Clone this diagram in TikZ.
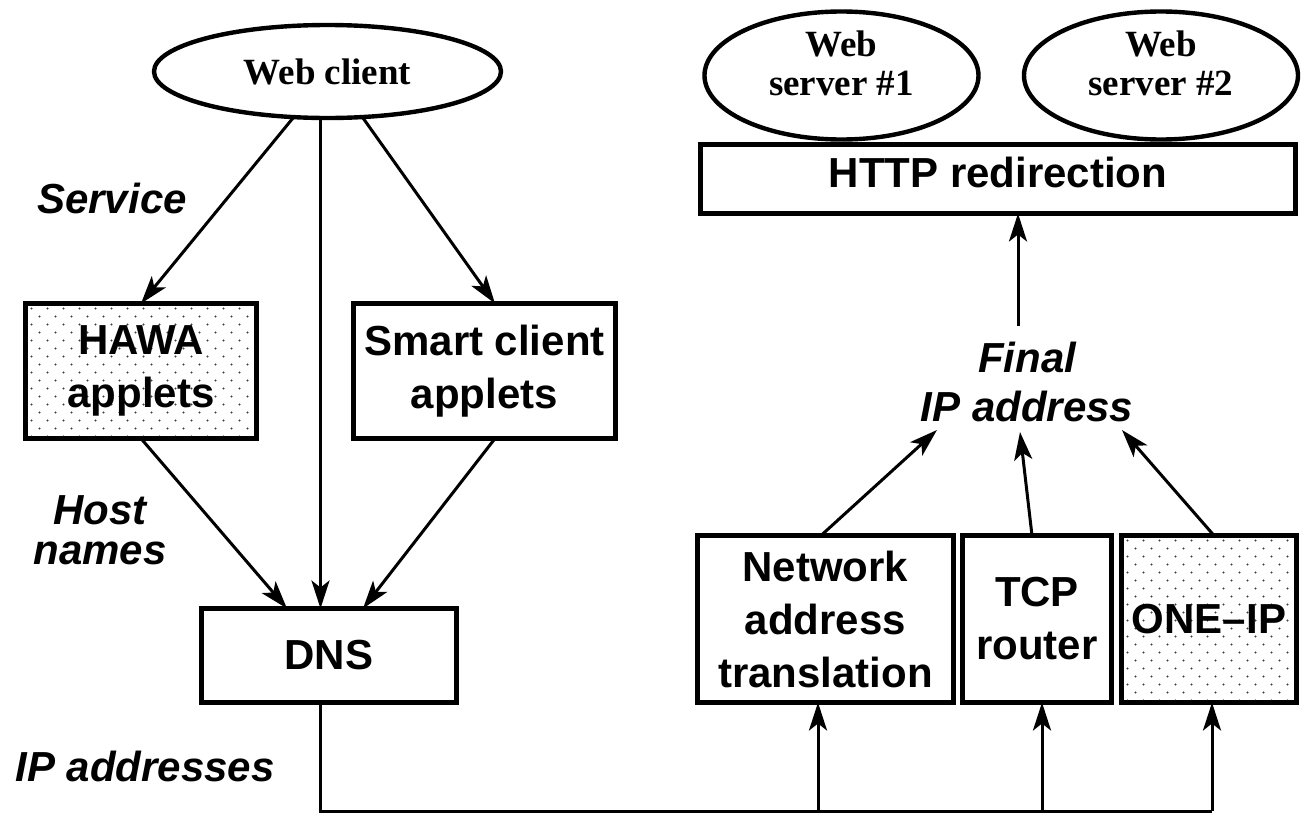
\documentclass[tikz,border=0pt]{standalone}
\usepackage{fontspec}
\setmainfont{Liberation Serif}
\newfontfamily\hv{Liberation Sans}
\usetikzlibrary{shapes.geometric,arrows.meta}
\begin{document}
\begin{tikzpicture}[x=0.5pt,y=-0.5pt,
  ell/.style={ellipse,draw,line width=2.2pt,inner sep=0pt,outer sep=0pt,fill=white,
    font=\bfseries\fontsize{18.5}{19.5}\selectfont,align=center},
  box/.style={rectangle,draw,line width=2.75pt,inner sep=0pt,outer sep=0pt,fill=white,
    font=\hv\bfseries\fontsize{21}{26.5}\selectfont,align=center},
  lbl/.style={font=\hv\bfseries\itshape\fontsize{21}{21}\selectfont,align=center,inner sep=0pt},
  con/.style={line width=1.5pt},
  arr/.style={con,-{Stealth[length=14pt,width=9pt,inset=3.5pt]}},
  stipple/.style={path picture={
    \foreach \j in {0,...,21}{
      \foreach \i in {0,...,15}{
        \fill[black!75] ([shift={({\i*16+mod(\j,2)*8+6},{\j*8+5})}]path picture bounding box.north west) circle[radius=0.55pt];
      }
    }
  }}
]
\useasboundingbox (0,0) rectangle (1303,814);

% top-left client
\node[ell,minimum width=173.5pt,minimum height=46.5pt] (wc) at (327.5,71.5) {Web client};

% servers and HTTP redirection
\node[box,minimum width=297.5pt,minimum height=34.5pt,text depth=6.5pt] (http) at (998,179) {HTTP redirection};
\node[ell,minimum width=137pt,minimum height=64pt,text depth=12pt] (ws1) at (841.5,75.5) {Web\\server \#1};
\node[ell,minimum width=137pt,minimum height=64pt,text depth=12pt] (ws2) at (1161,75.5) {Web\\server \#2};

% applet boxes
\node[box,stipple,minimum width=115.5pt,minimum height=67.5pt] (hawa) at (141,371) {HAWA\\applets};
\node[box,minimum width=131pt,minimum height=67.5pt] (smart) at (484.5,371) {Smart client\\applets};

% DNS
\node[box,minimum width=127.5pt,minimum height=47pt] (dns) at (329,655.5) {DNS};

% bottom-right boxes
\node[box,minimum width=128pt,minimum height=83.5pt] (nat) at (825.5,619) {Network\\address\\translation};
\node[box,minimum width=74.5pt,minimum height=83.5pt] (tcp) at (1037,619) {TCP\\router};
\node[box,stipple,minimum width=87.5pt,minimum height=83.5pt] (oneip) at (1209,619) {ONE\textendash IP};

% labels
\node[lbl] (svc) at (112,198) {Service};
\node[lbl,font=\hv\bfseries\itshape\fontsize{21}{20}\selectfont] (host) at (100,530) {Host\\names};
\node[lbl] (ipa) at (145,766) {IP addresses};
\node[lbl,font=\hv\bfseries\itshape\fontsize{21}{24.5}\selectfont] (fin) at (1027,382) {Final\\IP address};

% client connectors
\draw[arr] ([shift={(-34.5,0)}]wc.south) -- (hawa.north);
\draw[arr] ([shift={(-7,0)}]wc.south) -- ([shift={(-8.5,0)}]dns.north);
\draw[arr] ([shift={(35.5,0)}]wc.south) -- ([shift={(10.5,0)}]smart.north);
\draw[arr] (hawa.south) -- ([shift={(-42,0)}]dns.north);
\draw[arr] ([shift={(10.5,0)}]smart.south) -- ([shift={(34,0)}]dns.north);

% IP address bus
\coordinate (bus) at (0,811);
\coordinate (dnsout) at ([shift={(-8.5,0)}]dns.south);
\coordinate (natin) at ([shift={(-7.5,0)}]nat.south);
\coordinate (tcpin) at ([shift={(5,0)}]tcp.south);
\coordinate (onein) at ([shift={(3,0)}]oneip.south);
\draw[con] (dnsout) |- (onein |- bus);
\draw[arr] (natin |- bus) -- (natin);
\draw[arr] (tcpin |- bus) -- (tcpin);
\draw[arr] (onein |- bus) -- (onein);

% final IP address
\draw[arr] ([shift={(-4.5,0)}]nat.north) -- ([shift={(-90,48)}]fin.center);
\draw[arr] ([shift={(-5,0)}]tcp.north) -- ([shift={(-7,50)}]fin.center);
\draw[arr] ([shift={(5,0)}]oneip.north) -- ([shift={(95,48)}]fin.center);
\draw[arr] ([shift={(-9,-56)}]fin.center) -- ([shift={(20,0)}]http.south);
\end{tikzpicture}
\end{document}
